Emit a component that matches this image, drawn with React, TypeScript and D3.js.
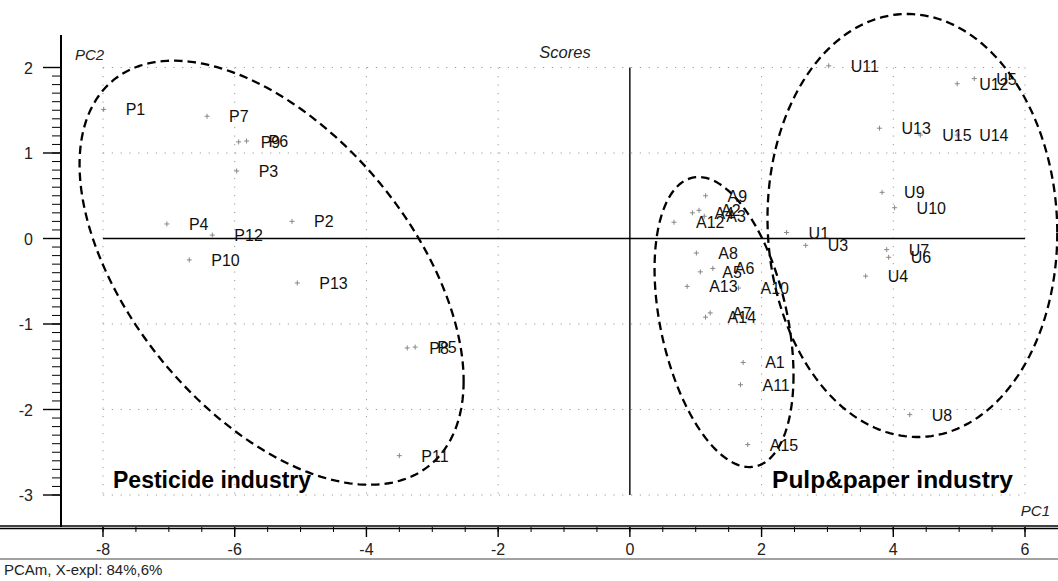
import React from 'react';
import * as d3 from 'd3';

// ---- data ----
const pLabels = ['P1','P2','P3','P4','P5','P6','P7','P8','P9','P10','P11','P12','P13'];
const pPC1 = [-7.99,-5.13,-5.97,-7.03,-3.26,-5.82,-6.42,-3.38,-5.94,-6.69,-3.50,-6.34,-5.05];
const pPC2 = [1.51,0.20,0.79,0.17,-1.27,1.14,1.43,-1.28,1.13,-0.25,-2.54,0.04,-0.52];

const aLabels = ['A1','A2','A3','A4','A5','A6','A7','A8','A9','A10','A11','A12','A13','A14','A15'];
const aPC1 = [1.72,1.05,1.13,0.95,1.07,1.26,1.22,1.01,1.15,1.65,1.68,0.67,0.87,1.15,1.79];
const aPC2 = [-1.45,0.33,0.26,0.30,-0.39,-0.35,-0.87,-0.17,0.50,-0.58,-1.71,0.19,-0.56,-0.92,-2.41];

const uLabels = ['U1','U3','U4','U5','U6','U7','U8','U9','U10','U11','U12','U13','U14','U15'];
const uPC1 = [2.38,2.67,3.58,5.23,3.93,3.90,4.25,3.83,4.02,3.02,4.97,3.79,4.97,4.41];
const uPC2 = [0.07,-0.08,-0.44,1.87,-0.22,-0.13,-2.06,0.54,0.36,2.02,1.81,1.29,1.21,1.21];

const xTicks = [-8,-6,-4,-2,0,2,4,6];
const yTicks = [2,1,0,-1,-2,-3];

const ellipseCx = [-5.44, 1.43, 4.29];
const ellipseCy = [-0.40, -0.977, 0.152];
const ellipseA = [2.916, 1.055, 2.20];
const ellipseB = [2.48, 1.696, 2.474];
const ellipsePhaseDeg = [120.7, 111.5, 92];

const groupNames = ['Pesticide industry', 'Pulp&paper industry'];

export default function App() {
  const W = 1058, H = 581;
  const x = d3.scaleLinear().domain([-8, 6]).range([103, 1025]);
  const y = d3.scaleLinear().domain([-3, 2]).range([495, 67.5]);
  const axisY = 527;
  const axisX = 61;
  const font = '"Liberation Sans", Arial, sans-serif';
  const narrow = '"Liberation Sans Narrow", "Arial Narrow", "Liberation Sans", sans-serif';

  const points = [
    ...pLabels.map((l, i) => ({ l, px: pPC1[i], py: pPC2[i] })),
    ...aLabels.map((l, i) => ({ l, px: aPC1[i], py: aPC2[i] })),
    ...uLabels.map((l, i) => ({ l, px: uPC1[i], py: uPC2[i] })),
  ];

  const line = d3.line<[number, number]>().x(d => x(d[0])).y(d => y(d[1])).curve(d3.curveLinearClosed);
  const ellipses = ellipseCx.map((cx, k) => {
    const ph = (ellipsePhaseDeg[k] * Math.PI) / 180;
    const pts: [number, number][] = d3.range(0, 240).map(i => {
      const t = (i / 240) * 2 * Math.PI;
      return [cx + ellipseA[k] * Math.cos(t), ellipseCy[k] + ellipseB[k] * Math.cos(t + ph)];
    });
    return line(pts) || '';
  });

  const xMinor = d3.range(-8, 6.001, 0.5);
  const yMinor = d3.range(-30, 21).map(v => v / 10).filter(v => y(v) > 35);
  const x0 = x(-8), x1 = x(6), yTop = y(2), yBot = y(-3);

  return (
    <svg width={W} height={H} style={{ position: 'absolute', left: 0, top: 0, background: '#fff' }} fontFamily={font}>
      <rect x={0} y={0} width={W} height={H} fill="#fff" />
      {/* dotted grid */}
      {yTicks.filter(v => v !== 0).map(v => (
        <line key={'gy' + v} x1={x0} x2={x1} y1={y(v)} y2={y(v)} stroke="#9a9a9a" strokeWidth={1} strokeDasharray="1.2,7.6" />
      ))}
      {xTicks.filter(v => v !== 0).map(v => (
        <line key={'gx' + v} x1={x(v)} x2={x(v)} y1={yTop} y2={yBot} stroke="#9a9a9a" strokeWidth={1} strokeDasharray="1.2,7.3" />
      ))}
      {/* zero lines */}
      <line x1={x0} x2={x1} y1={y(0)} y2={y(0)} stroke="#000" strokeWidth={1.4} />
      <line x1={x(0)} x2={x(0)} y1={yTop} y2={yBot} stroke="#000" strokeWidth={1.4} />

      {/* y axis */}
      <line x1={axisX} x2={axisX} y1={35} y2={axisY} stroke="#000" strokeWidth={2} />
      {yMinor.map(v => (
        <line key={'ym' + v} x1={axisX - 9} x2={axisX} y1={y(v)} y2={y(v)} stroke="#000" strokeWidth={1} />
      ))}
      {yTicks.map(v => (
        <g key={'yt' + v}>
          <line x1={axisX - 18} x2={axisX} y1={y(v)} y2={y(v)} stroke="#000" strokeWidth={1.4} />
          <text x={33} y={y(v) + 6} textAnchor="end" fontSize={16} fontFamily={narrow} fill="#222">{v}</text>
        </g>
      ))}

      {/* x axis */}
      <line x1={0} x2={W} y1={axisY - 1} y2={axisY - 1} stroke="#000" strokeWidth={1.3} />
      <line x1={0} x2={W} y1={axisY + 1.5} y2={axisY + 1.5} stroke="#000" strokeWidth={1.3} />
      {xMinor.map(v => (
        <line key={'xm' + v} x1={x(v)} x2={x(v)} y1={axisY} y2={axisY + 5} stroke="#000" strokeWidth={1} />
      ))}
      {xTicks.map(v => (
        <g key={'xt' + v}>
          <line x1={x(v)} x2={x(v)} y1={axisY} y2={axisY + 10} stroke="#000" strokeWidth={1.4} />
          <text x={x(v)} y={axisY + 28} textAnchor="middle" fontSize={16} fontFamily={narrow} fill="#222">{v}</text>
        </g>
      ))}
      <line x1={0} x2={W} y1={559} y2={559} stroke="#444" strokeWidth={1} />
      <text x={4} y={575} fontSize={15} fill="#222">PCAm, X-expl: 84%,6%</text>

      {/* titles */}
      <text x={565} y={58} textAnchor="middle" fontSize={16.5} fontStyle="italic" fill="#222">Scores</text>
      <text x={75} y={60} fontSize={15} fontStyle="italic" fill="#222">PC2</text>
      <text x={1050} y={516} textAnchor="end" fontSize={15} fontStyle="italic" fill="#222">PC1</text>

      {/* ellipses */}
      {ellipses.map((d, k) => (
        <path key={'el' + k} d={d} fill="none" stroke="#000" strokeWidth={2.3} strokeDasharray="8.5,5" />
      ))}

      {/* points */}
      {points.map(p => (
        <g key={p.l}>
          <line x1={x(p.px) - 2.5} x2={x(p.px) + 2.5} y1={y(p.py)} y2={y(p.py)} stroke="#888" strokeWidth={1} />
          <line x1={x(p.px)} x2={x(p.px)} y1={y(p.py) - 2.5} y2={y(p.py) + 2.5} stroke="#888" strokeWidth={1} />
          <text x={x(p.px) + 22} y={y(p.py) + 6} fontSize={16} fontFamily={narrow} fill="#111">{p.l}</text>
        </g>
      ))}

      {/* group labels */}
      <text x={113} y={488} fontSize={23} fontWeight="bold" fill="#000">{groupNames[0]}</text>
      <text x={1013} y={488} textAnchor="end" fontSize={24.5} fontWeight="bold" fill="#000">{groupNames[1]}</text>
    </svg>
  );
}
